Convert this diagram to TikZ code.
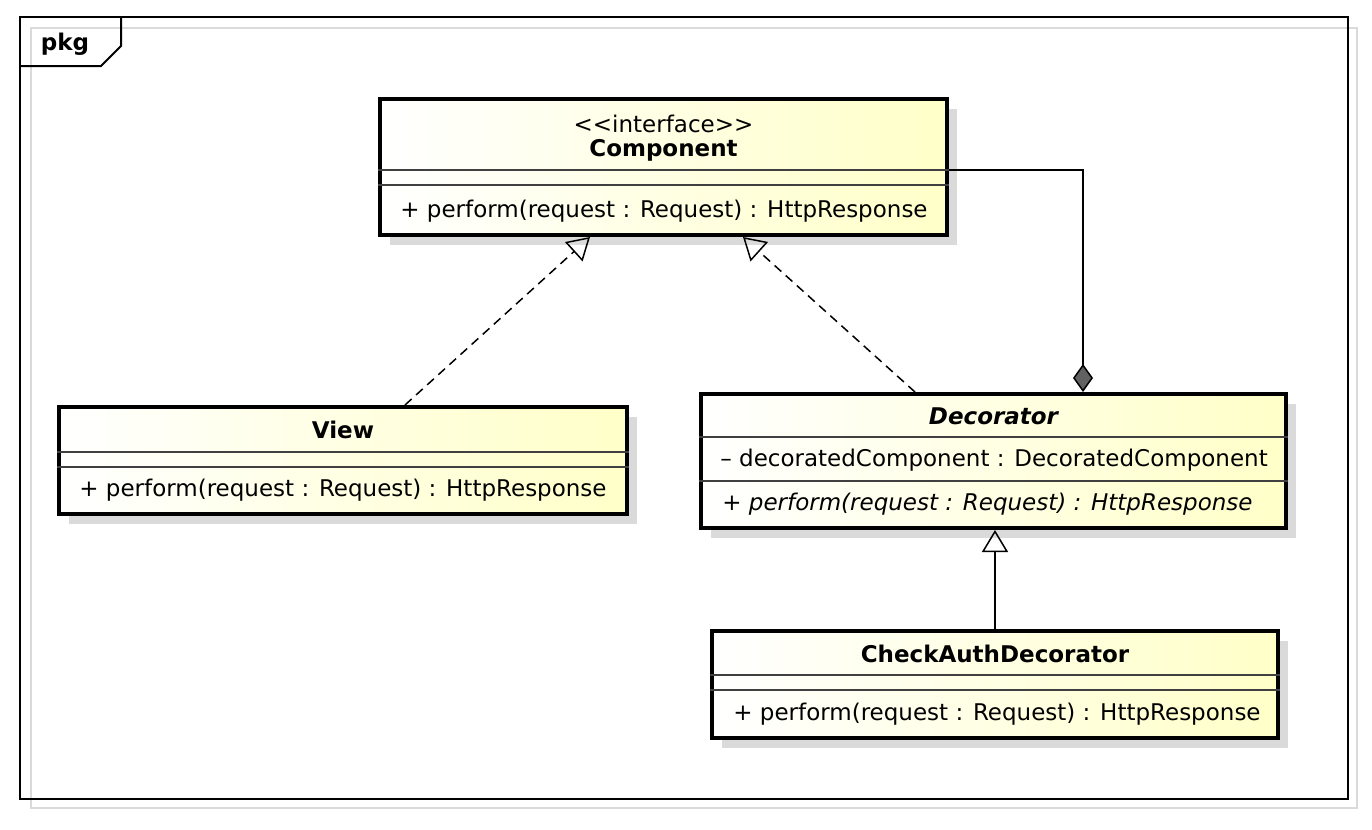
\documentclass[tikz,border=0pt]{standalone}
\usepackage{fontspec}
\setmainfont{DejaVu Sans}
\usetikzlibrary{positioning}
\usetikzlibrary{arrows.meta}
\usetikzlibrary{shadows}
\definecolor{umlyellow}{RGB}{255,255,200}
\definecolor{shadowgray}{RGB}{218,218,218}
\tikzset{classbox/.style={rectangle,draw=black,line width=2pt,
left color=white,right color=umlyellow,inner sep=0pt,
drop shadow={shadow xshift=5pt,shadow yshift=-5pt,fill=shadowgray,opacity=1}}}
\tikzset{classname/.style={inner sep=0pt,font=\fontsize{11.5}{13}\selectfont\bfseries}}
\tikzset{member/.style={anchor=west,inner sep=0pt,font=\fontsize{11.5}{13}\selectfont}}
\tikzset{sepline/.style={line width=0.7pt,draw=black!75}}
\tikzset{realize/.style={line width=0.75pt,dash pattern=on 4.5pt off 3pt,
-{Triangle[open,length=11pt,width=13pt,line width=0.75pt]}}}
\tikzset{generalize/.style={line width=0.75pt,
-{Triangle[open,length=11pt,width=13pt,line width=0.75pt]}}}
\tikzset{compose/.style={line width=0.75pt,
{Diamond[fill=black!62,length=14pt,width=10pt,line width=0.75pt]}-}}

\begin{document}
\begin{tikzpicture}[x=0.5pt,y=-0.5pt]
        \useasboundingbox (0,0) rectangle (1372,830);

        % package frame
        \draw[shadowgray,line width=1.2pt] (31,28) rectangle (1357,808);
        \draw[line width=1pt] (20,17) rectangle (1348,799);
        \draw[line width=1pt] (121,17) -- (121,46) -- (101,66) -- (20,66);
        \node[classname] (pkg) at (65,44) {pkg};

        % classes
        \node[classbox, minimum width=283.5pt, minimum height=68pt] (comp) at (663.5,167) {};
        \node[classbox, minimum width=284pt, minimum height=53.5pt] (view) at (343,460.5) {};
        \node[classbox, minimum width=292.5pt, minimum height=67pt] (dec) at (993.5,461) {};
        \node[classbox, minimum width=283pt, minimum height=53.5pt] (chk) at (995,684.5) {};

        \node[classname, font=\fontsize{11.5}{13}\selectfont] (compst) at (663.5,124) {{<}{<}interface{>}{>}};
        \node[classname] (compname) at (663.5,150) {Component};
        \node[member] (compop) at (400,211) {+ perform(request : Request) : HttpResponse};

        \node[classname] (viewname) at (343,430) {View};
        \node[member] (viewop) at (79,490) {+ perform(request : Request) : HttpResponse};

        \node[classname, font=\fontsize{11.5}{13}\selectfont\bfseries\itshape] (decname) at (993.5,416) {Decorator};
        \node[member] (decattr) at (720,460) {– decoratedComponent : DecoratedComponent};
        \node[member, font=\fontsize{11.5}{13}\selectfont\itshape] (decop) at (722,504) {+ perform(request : Request) : HttpResponse};

        \node[classname] (chkname) at (995,654) {CheckAuthDecorator};
        \node[member] (chkop) at (733,714) {+ perform(request : Request) : HttpResponse};

        % compartments
        \coordinate (compsepA) at (0,170);
        \coordinate (compsepB) at (0,185);
        \coordinate (viewsepA) at (0,452);
        \coordinate (viewsepB) at (0,467);
        \coordinate (decsepA) at (0,437);
        \coordinate (decsepB) at (0,481);
        \coordinate (chksepA) at (0,675);
        \coordinate (chksepB) at (0,690);
        \draw[sepline] (comp.west |- compsepA) -- (comp.east |- compsepA);
        \draw[sepline] (comp.west |- compsepB) -- (comp.east |- compsepB);
        \draw[sepline] (view.west |- viewsepA) -- (view.east |- viewsepA);
        \draw[sepline] (view.west |- viewsepB) -- (view.east |- viewsepB);
        \draw[sepline] (dec.west |- decsepA) -- (dec.east |- decsepA);
        \draw[sepline] (dec.west |- decsepB) -- (dec.east |- decsepB);
        \draw[sepline] (chk.west |- chksepA) -- (chk.east |- chksepA);
        \draw[sepline] (chk.west |- chksepB) -- (chk.east |- chksepB);

        % relations
        \draw[realize] ([xshift=31pt]view.north) -- ([xshift=-36.75pt]comp.south);
        \draw[realize] ([xshift=-39.25pt]dec.north) -- ([xshift=39.75pt]comp.south);
        \draw[generalize] (chk.north) -- (chk.north |- dec.south);
        \draw[compose] ([xshift=44.75pt]dec.north) |- (comp.east |- compsepA);

    \end{tikzpicture}
\end{document}
